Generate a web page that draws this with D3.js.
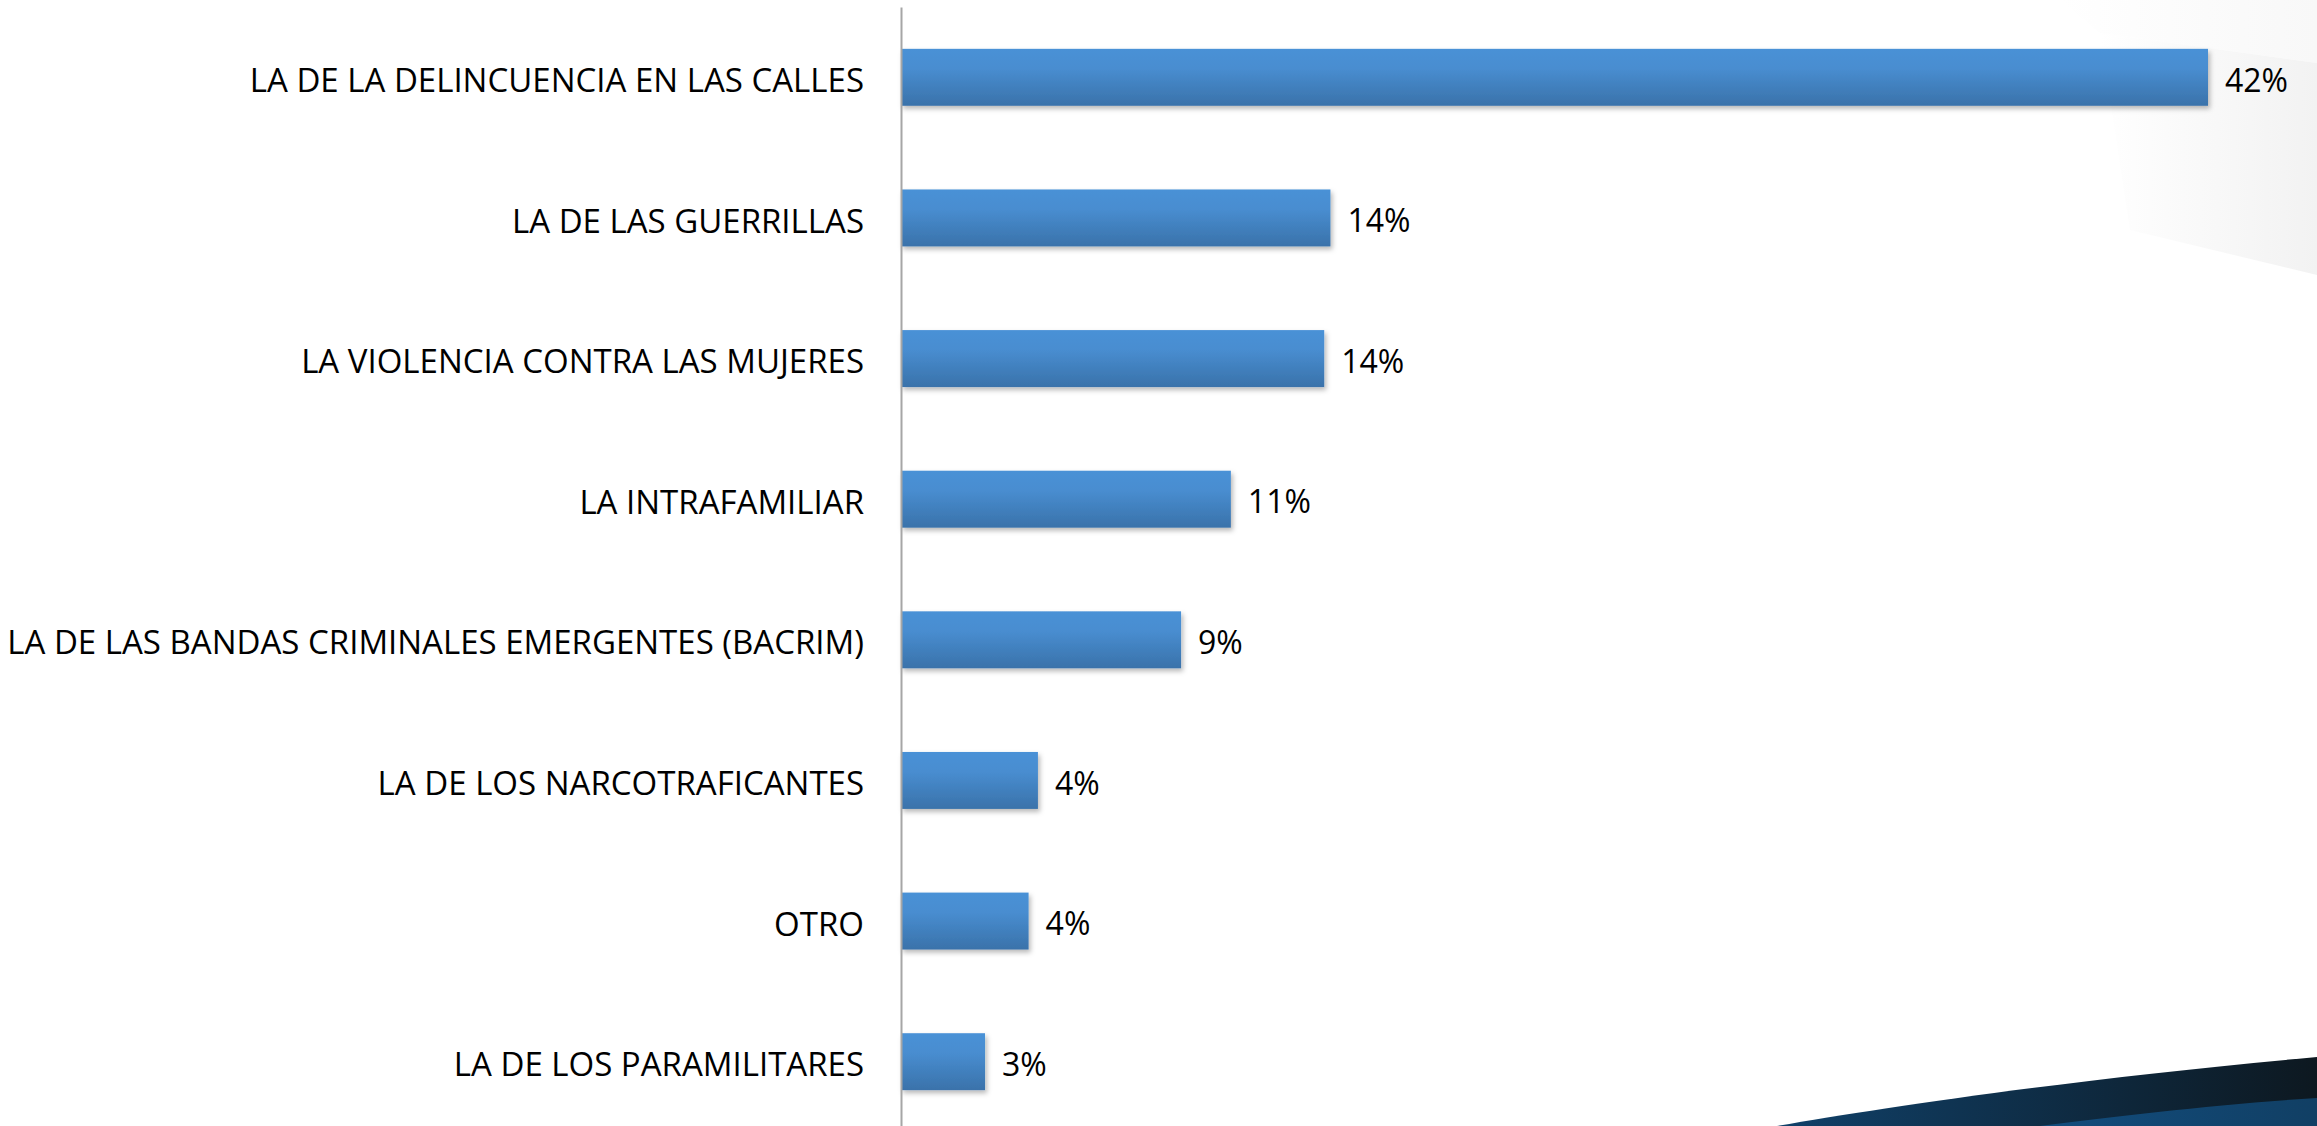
<!DOCTYPE html>
<html>
<head>
<meta charset="utf-8">
<script src="https://cdn.jsdelivr.net/npm/d3@7"></script>
<style>
  html, body { margin: 0; padding: 0; background: #fff; }
  svg { display: block; }
</style>
</head>
<body>
<div id="graph"></div>
<script>
// Data
const categories = [
  'LA DE LA DELINCUENCIA EN LAS CALLES',
  'LA DE LAS GUERRILLAS',
  'LA VIOLENCIA CONTRA LAS MUJERES',
  'LA INTRAFAMILIAR',
  'LA DE LAS BANDAS CRIMINALES EMERGENTES (BACRIM)',
  'LA DE LOS NARCOTRAFICANTES',
  'OTRO',
  'LA DE LOS PARAMILITARES'
]
const values = [42, 13.8, 13.6, 10.6, 9.0, 4.4, 4.1, 2.7]
const valueLabels = ['42%', '14%', '14%', '11%', '9%', '4%', '4%', '3%']

const total_width = 2317
const total_height = 1126
const fontFamily = "'Open Sans', 'Noto Sans', sans-serif"

svg = d3.select('#graph').append('svg')
  .attr('width', total_width)
  .attr('height', total_height)

defs = svg.append('defs')

barGrad = defs.append('linearGradient')
  .attr('id', 'barGrad')
  .attr('x1', 0).attr('y1', 0).attr('x2', 0).attr('y2', 1)
barGrad.append('stop').attr('offset', '0%').attr('stop-color', '#4a91d6')
barGrad.append('stop').attr('offset', '35%').attr('stop-color', '#488dd0')
barGrad.append('stop').attr('offset', '100%').attr('stop-color', '#3a72aa')

shadow = defs.append('filter')
  .attr('id', 'shadow')
  .attr('x', '-5%').attr('y', '-20%').attr('width', '120%').attr('height', '160%')
shadow.append('feDropShadow')
  .attr('dx', 2).attr('dy', 3).attr('stdDeviation', 2.5)
  .attr('flood-color', '#000').attr('flood-opacity', 0.28)

// background decorations (slide template)
greyGrad = defs.append('linearGradient')
  .attr('id', 'greyGrad')
  .attr('x1', 0).attr('y1', 0).attr('x2', 1).attr('y2', 0)
greyGrad.append('stop').attr('offset', '0%').attr('stop-color', '#ffffff')
greyGrad.append('stop').attr('offset', '100%').attr('stop-color', '#f2f2f2')

paleGrad = defs.append('linearGradient')
  .attr('id', 'paleGrad')
  .attr('x1', 0).attr('y1', 0).attr('x2', 1).attr('y2', 0)
paleGrad.append('stop').attr('offset', '0%').attr('stop-color', '#ffffff')
paleGrad.append('stop').attr('offset', '100%').attr('stop-color', '#f8f8f8')

darkGrad = defs.append('linearGradient')
  .attr('id', 'darkGrad')
  .attr('x1', 0).attr('y1', 0).attr('x2', 1).attr('y2', 0)
darkGrad.append('stop').attr('offset', '0%').attr('stop-color', '#10416a')
darkGrad.append('stop').attr('offset', '100%').attr('stop-color', '#0d1820')

blueGrad = defs.append('linearGradient')
  .attr('id', 'blueGrad')
  .attr('x1', 0).attr('y1', 0).attr('x2', 1).attr('y2', 0)
blueGrad.append('stop').attr('offset', '0%').attr('stop-color', '#124d7e')
blueGrad.append('stop').attr('offset', '100%').attr('stop-color', '#113f64')

bg = svg.append('g')
bg.append('path')
  .attr('d', 'M2060,0 L2317,0 L2317,63 L2100,33 Z')
  .attr('fill', 'url(#paleGrad)')
bg.append('path')
  .attr('d', 'M2100,33 L2317,63 L2317,275 L2130,230 Z')
  .attr('fill', 'url(#greyGrad)')
bg.append('path')
  .attr('d', 'M1777,1126 C1880,1108 2080,1078 2317,1057 L2317,1126 Z')
  .attr('fill', 'url(#darkGrad)')
bg.append('path')
  .attr('d', 'M2040,1126 C2120,1116 2220,1104 2317,1098 L2317,1126 Z')
  .attr('fill', 'url(#blueGrad)')

// scales
x = d3.scaleLinear().domain([0, 42]).range([901, 2208])
y = d3.scaleBand().domain(categories).range([7, 1132]).paddingInner(0.595).paddingOuter(0.2975)

g = svg.append('g')

g.selectAll('.bar')
  .data(values)
  .enter()
  .append('rect')
  .attr('class', 'bar')
  .attr('x', x(0))
  .attr('y', (d, i) => y(categories[i]))
  .attr('width', d => x(d) - x(0))
  .attr('height', y.bandwidth())
  .attr('fill', 'url(#barGrad)')
  .attr('filter', 'url(#shadow)')

g.selectAll('.value')
  .data(values)
  .enter()
  .append('text')
  .attr('class', 'value')
  .attr('x', d => x(d) + 17)
  .attr('y', (d, i) => y(categories[i]) + y.bandwidth() / 2 + 3)
  .attr('dy', '0.35em')
  .attr('font-family', fontFamily)
  .attr('font-size', 32)
  .attr('fill', '#000')
  .text((d, i) => valueLabels[i])

yAxis = svg.append('g')
  .attr('transform', `translate(${x(0)}, 0)`)
  .call(d3.axisLeft(y).tickSize(0).tickPadding(37))
yAxis.select('.domain').attr('stroke', '#a6a6a6').attr('stroke-width', 2)
yAxis.selectAll('text')
  .attr('font-family', fontFamily)
  .attr('font-size', 33)
  .attr('fill', '#000')
  .attr('dy', '0.35em')
  .attr('y', 3)
</script>
</body>
</html>
